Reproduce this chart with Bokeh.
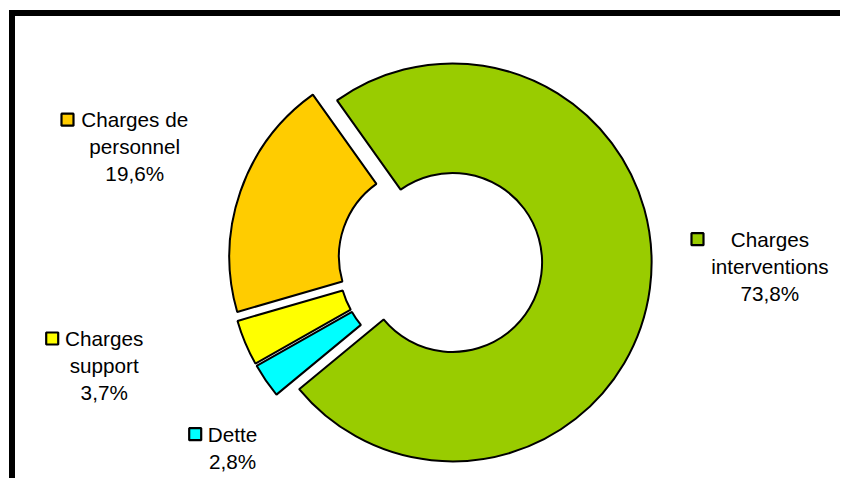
import numpy as np
from bokeh.plotting import figure
from bokeh.models import Range1d, BoxAnnotation, ColumnDataSource
from bokeh.embed import file_html
from bokeh.resources import INLINE
from bokeh.core.properties import value

# ---- data ----
categories = ["Charges interventions", "Dette", "Charges support", "Charges de personnel"]
label_lines = [["Charges", "interventions"], ["Dette"], ["Charges", "support"], ["Charges de", "personnel"]]
shares = [73.8, 2.8, 3.7, 19.6]
colors = ["#99CC00", "#00FFFF", "#FFFF00", "#FFCC00"]

# ---- layout (pixel space of the figure) ----
W, H = 840, 478
first_angle = 324.5      # degrees clockwise from 12 o'clock
explode = 12.5
cx, cy = 439.7, 217.7
r_out, r_in = 199.0, 89.5

# label anchors: (text centre x, first line y), key centre (x, y)
label_pos = [(769.4, 238.7), (232.0, 43.7), (103.7, 139.7), (134.2, 359.0)]
key_pos = [(697.0, 239.3), (194.7, 44.3), (51.7, 140.0), (67.0, 358.8)]
line_step = 27.0
font = "Liberation Sans"

vals = np.array(shares, dtype=float)
frac = vals / vals.sum()
cum = np.cumsum(frac) * 360.0
start_cw = first_angle + np.concatenate([[0.0], cum[:-1]])
end_cw = first_angle + cum
mid_cw = (start_cw + end_cw) / 2.0
phi = np.radians(90.0 - mid_cw)

src = ColumnDataSource(dict(
    x=cx + explode * np.cos(phi),
    y=cy + explode * np.sin(phi),
    start=np.radians(90.0 - end_cw),
    end=np.radians(90.0 - start_cw),
    color=colors,
    name=categories,
))

p = figure(width=W, height=H, x_range=Range1d(0, W), y_range=Range1d(0, H),
           output_backend="svg", toolbar_location=None,
           x_axis_location=None, y_axis_location=None, min_border=0)
p.grid.visible = False
p.outline_line_color = None
p.background_fill_color = "white"
p.border_fill_color = "white"

p.annular_wedge(x="x", y="y", inner_radius=r_in, outer_radius=r_out,
                start_angle="start", end_angle="end", source=src,
                fill_color="color", line_color="black", line_width=2)

# labels
tx, ty, tt = [], [], []
for lines, v, (lx, ly) in zip(label_lines, shares, label_pos):
    texts = list(lines) + [f"{v:.1f}".replace(".", ",") + "%"]
    for i, t in enumerate(texts):
        tx.append(lx)
        ty.append(ly - i * line_step)
        tt.append(t)
p.text(x=tx, y=ty, text=tt, text_font=value(font), text_font_size="20.7px",
       text_align="center", text_baseline="middle", text_color="black")

p.rect(x=[k[0] for k in key_pos], y=[k[1] for k in key_pos], width=12, height=12,
       fill_color=colors, line_color="black", line_width=2.2)

# chart-area border (only left and top edges fall inside the window)
p.add_layout(BoxAnnotation(left=11.5, right=W + 40, bottom=-40, top=465.5,
                           fill_alpha=0, line_color="black", line_width=6,
                           line_alpha=1.0, line_join="miter"))

open("out.html", "w").write(file_html(p, INLINE))
